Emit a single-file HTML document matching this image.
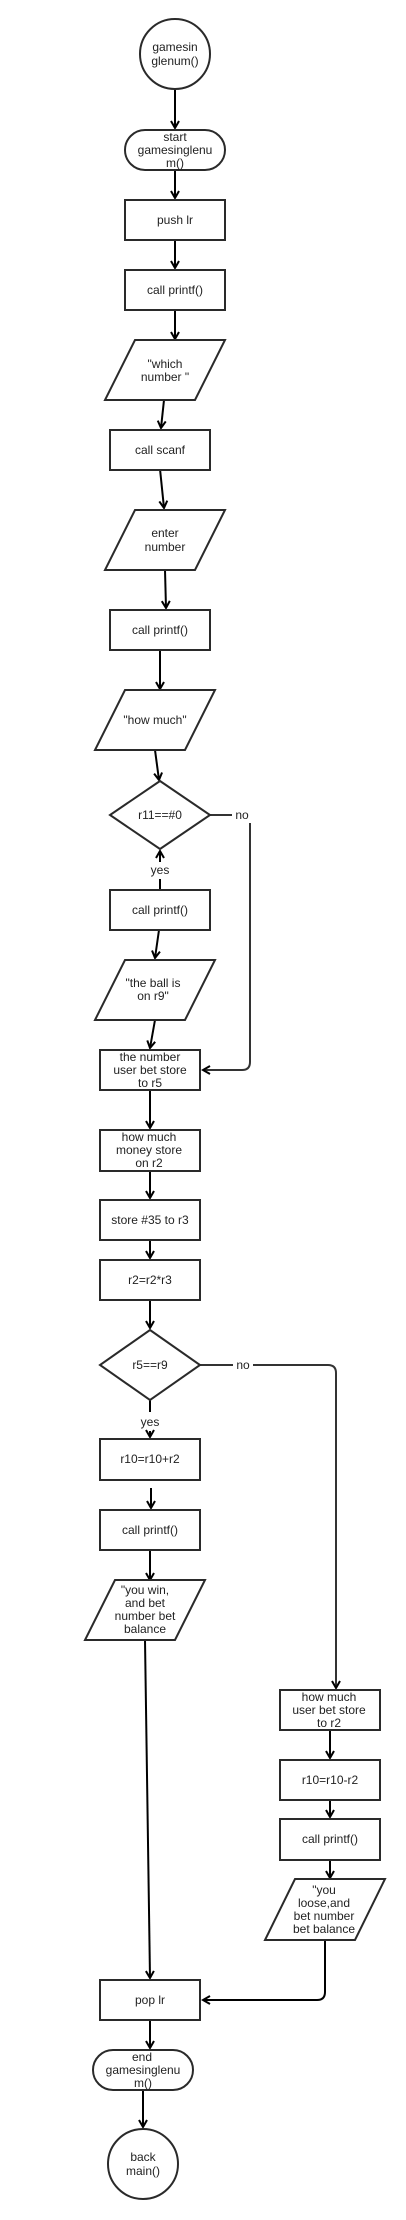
<!DOCTYPE html>
<html><head><meta charset="utf-8"><style>
html,body{margin:0;padding:0;background:#fff;}
svg{display:block;}
text{font-family:"Liberation Sans",Arial,sans-serif;font-size:12px;fill:#222;text-anchor:middle;}
.s{fill:#fff;stroke:#2a2a2a;stroke-width:2;}
.l{fill:none;stroke:#000;stroke-width:2;}
.g{fill:none;stroke:#333;stroke-width:2;}
</style></head><body>
<svg width="406" height="2220" viewBox="0 0 406 2220" xmlns="http://www.w3.org/2000/svg">
<defs>
<marker id="a" markerWidth="10" markerHeight="10" refX="8" refY="5" orient="auto" markerUnits="userSpaceOnUse">
<path d="M1,1 L8,5 L1,9" fill="none" stroke="#000" stroke-width="2"/>
</marker>
</defs>
<!-- connectors -->
<path class="l" d="M175,89 L175,128" marker-end="url(#a)"/>
<path class="l" d="M175,170 L175,198" marker-end="url(#a)"/>
<path class="l" d="M175,240 L175,268" marker-end="url(#a)"/>
<path class="l" d="M175,310 L175,339" marker-end="url(#a)"/>
<path class="l" d="M164,400 L161,428" marker-end="url(#a)"/>
<path class="l" d="M160,469 L164,508" marker-end="url(#a)"/>
<path class="l" d="M165,570 L166,608" marker-end="url(#a)"/>
<path class="l" d="M160,650 L160,689" marker-end="url(#a)"/>
<path class="l" d="M155,750 L159,780" marker-end="url(#a)"/>
<path class="g" d="M210,815 L232,815"/>
<text x="242" y="819">no</text>
<path class="g" d="M250,823 L250,1062 Q250,1070 242,1070 L203,1070" marker-end="url(#a)"/>
<path class="l" d="M160,890 L160,879"/>
<text x="160" y="874">yes</text>
<path class="l" d="M160,862 L160,851" marker-end="url(#a)"/>
<path class="l" d="M159,930 L155,958" marker-end="url(#a)"/>
<path class="l" d="M155,1020 L150,1048" marker-end="url(#a)"/>
<path class="l" d="M150,1090 L150,1128" marker-end="url(#a)"/>
<path class="l" d="M150,1171 L150,1198" marker-end="url(#a)"/>
<path class="l" d="M150,1240 L150,1258" marker-end="url(#a)"/>
<path class="l" d="M150,1300 L150,1328" marker-end="url(#a)"/>
<path class="g" d="M200,1365 L233,1365"/>
<text x="243" y="1369">no</text>
<path class="g" d="M253,1365 L328,1365 Q336,1365 336,1373 L336,1688" marker-end="url(#a)"/>
<path class="l" d="M150,1400 L150,1412"/>
<text x="150" y="1426">yes</text>
<path class="l" d="M150,1431 L150,1437" marker-end="url(#a)"/>
<path class="l" d="M151,1488 L151,1508" marker-end="url(#a)"/>
<path class="l" d="M150,1550 L150,1580" marker-end="url(#a)"/>
<path class="l" d="M145,1640 L150,1978" marker-end="url(#a)"/>
<path class="l" d="M330,1730 L330,1758" marker-end="url(#a)"/>
<path class="l" d="M330,1800 L330,1817" marker-end="url(#a)"/>
<path class="l" d="M330,1860 L330,1878" marker-end="url(#a)"/>
<path class="l" d="M325,1940 L325,1992 Q325,2000 317,2000 L203,2000" marker-end="url(#a)"/>
<path class="l" d="M150,2020 L150,2048" marker-end="url(#a)"/>
<path class="l" d="M143,2090 L143,2127" marker-end="url(#a)"/>
<!-- shapes -->
<circle class="s" cx="175" cy="54" r="35"/>
<text x="175" y="51">gamesin</text><text x="175" y="65">glenum()</text>
<rect class="s" x="125" y="130" width="100" height="40" rx="20"/>
<text x="175" y="141">start</text><text x="175" y="154">gamesinglenu</text><text x="175" y="167">m()</text>
<rect class="s" x="125" y="200" width="100" height="40"/><text x="175" y="224">push lr</text>
<rect class="s" x="125" y="270" width="100" height="40"/><text x="175" y="294">call printf()</text>
<path class="s" d="M135,340 L225,340 L195,400 L105,400 Z"/>
<text x="165" y="368">"which</text><text x="165" y="381">number "</text>
<rect class="s" x="110" y="430" width="100" height="40"/><text x="160" y="454">call scanf</text>
<path class="s" d="M135,510 L225,510 L195,570 L105,570 Z"/>
<text x="165" y="537">enter</text><text x="165" y="551">number</text>
<rect class="s" x="110" y="610" width="100" height="40"/><text x="160" y="634">call printf()</text>
<path class="s" d="M125,690 L215,690 L185,750 L95,750 Z"/>
<text x="155" y="724">"how much"</text>
<path class="s" d="M160,781 L210,815 L160,849 L110,815 Z"/>
<text x="160" y="819">r11==#0</text>
<rect class="s" x="110" y="890" width="100" height="40"/><text x="160" y="914">call printf()</text>
<path class="s" d="M125,960 L215,960 L185,1020 L95,1020 Z"/>
<text x="153" y="987">"the ball is</text><text x="153" y="1000">on r9"</text>
<rect class="s" x="100" y="1050" width="100" height="40"/>
<text x="150" y="1061">the number</text><text x="150" y="1074">user bet store</text><text x="150" y="1087">to r5</text>
<rect class="s" x="100" y="1130" width="100" height="41"/>
<text x="149" y="1141">how much</text><text x="149" y="1154">money store</text><text x="149" y="1167">on r2</text>
<rect class="s" x="100" y="1200" width="100" height="40"/><text x="150" y="1224">store #35 to r3</text>
<rect class="s" x="100" y="1260" width="100" height="40"/><text x="150" y="1284">r2=r2*r3</text>
<path class="s" d="M150,1330 L200,1365 L150,1400 L100,1365 Z"/>
<text x="150" y="1369">r5==r9</text>
<rect class="s" x="100" y="1439" width="100" height="41"/><text x="150" y="1463">r10=r10+r2</text>
<rect class="s" x="100" y="1510" width="100" height="40"/><text x="150" y="1534">call printf()</text>
<path class="s" d="M115,1580 L205,1580 L175,1640 L85,1640 Z"/>
<text x="145" y="1594">"you win,</text><text x="145" y="1607">and bet</text><text x="145" y="1620">number bet</text><text x="145" y="1633">balance</text>
<rect class="s" x="280" y="1690" width="100" height="40"/>
<text x="329" y="1701">how much</text><text x="329" y="1714">user bet store</text><text x="329" y="1727">to r2</text>
<rect class="s" x="280" y="1760" width="100" height="40"/><text x="330" y="1784">r10=r10-r2</text>
<rect class="s" x="280" y="1819" width="100" height="41"/><text x="330" y="1843">call printf()</text>
<path class="s" d="M295,1879 L385,1879 L355,1940 L265,1940 Z"/>
<text x="324" y="1894">"you</text><text x="324" y="1907">loose,and</text><text x="324" y="1920">bet number</text><text x="324" y="1933">bet balance</text>
<rect class="s" x="100" y="1980" width="100" height="40"/><text x="150" y="2004">pop lr</text>
<rect class="s" x="93" y="2050" width="100" height="40" rx="20"/>
<text x="142" y="2061">end</text><text x="143" y="2074">gamesinglenu</text><text x="143" y="2087">m()</text>
<circle class="s" cx="143" cy="2164" r="35"/>
<text x="143" y="2161">back</text><text x="143" y="2175">main()</text>
</svg>
</body></html>
